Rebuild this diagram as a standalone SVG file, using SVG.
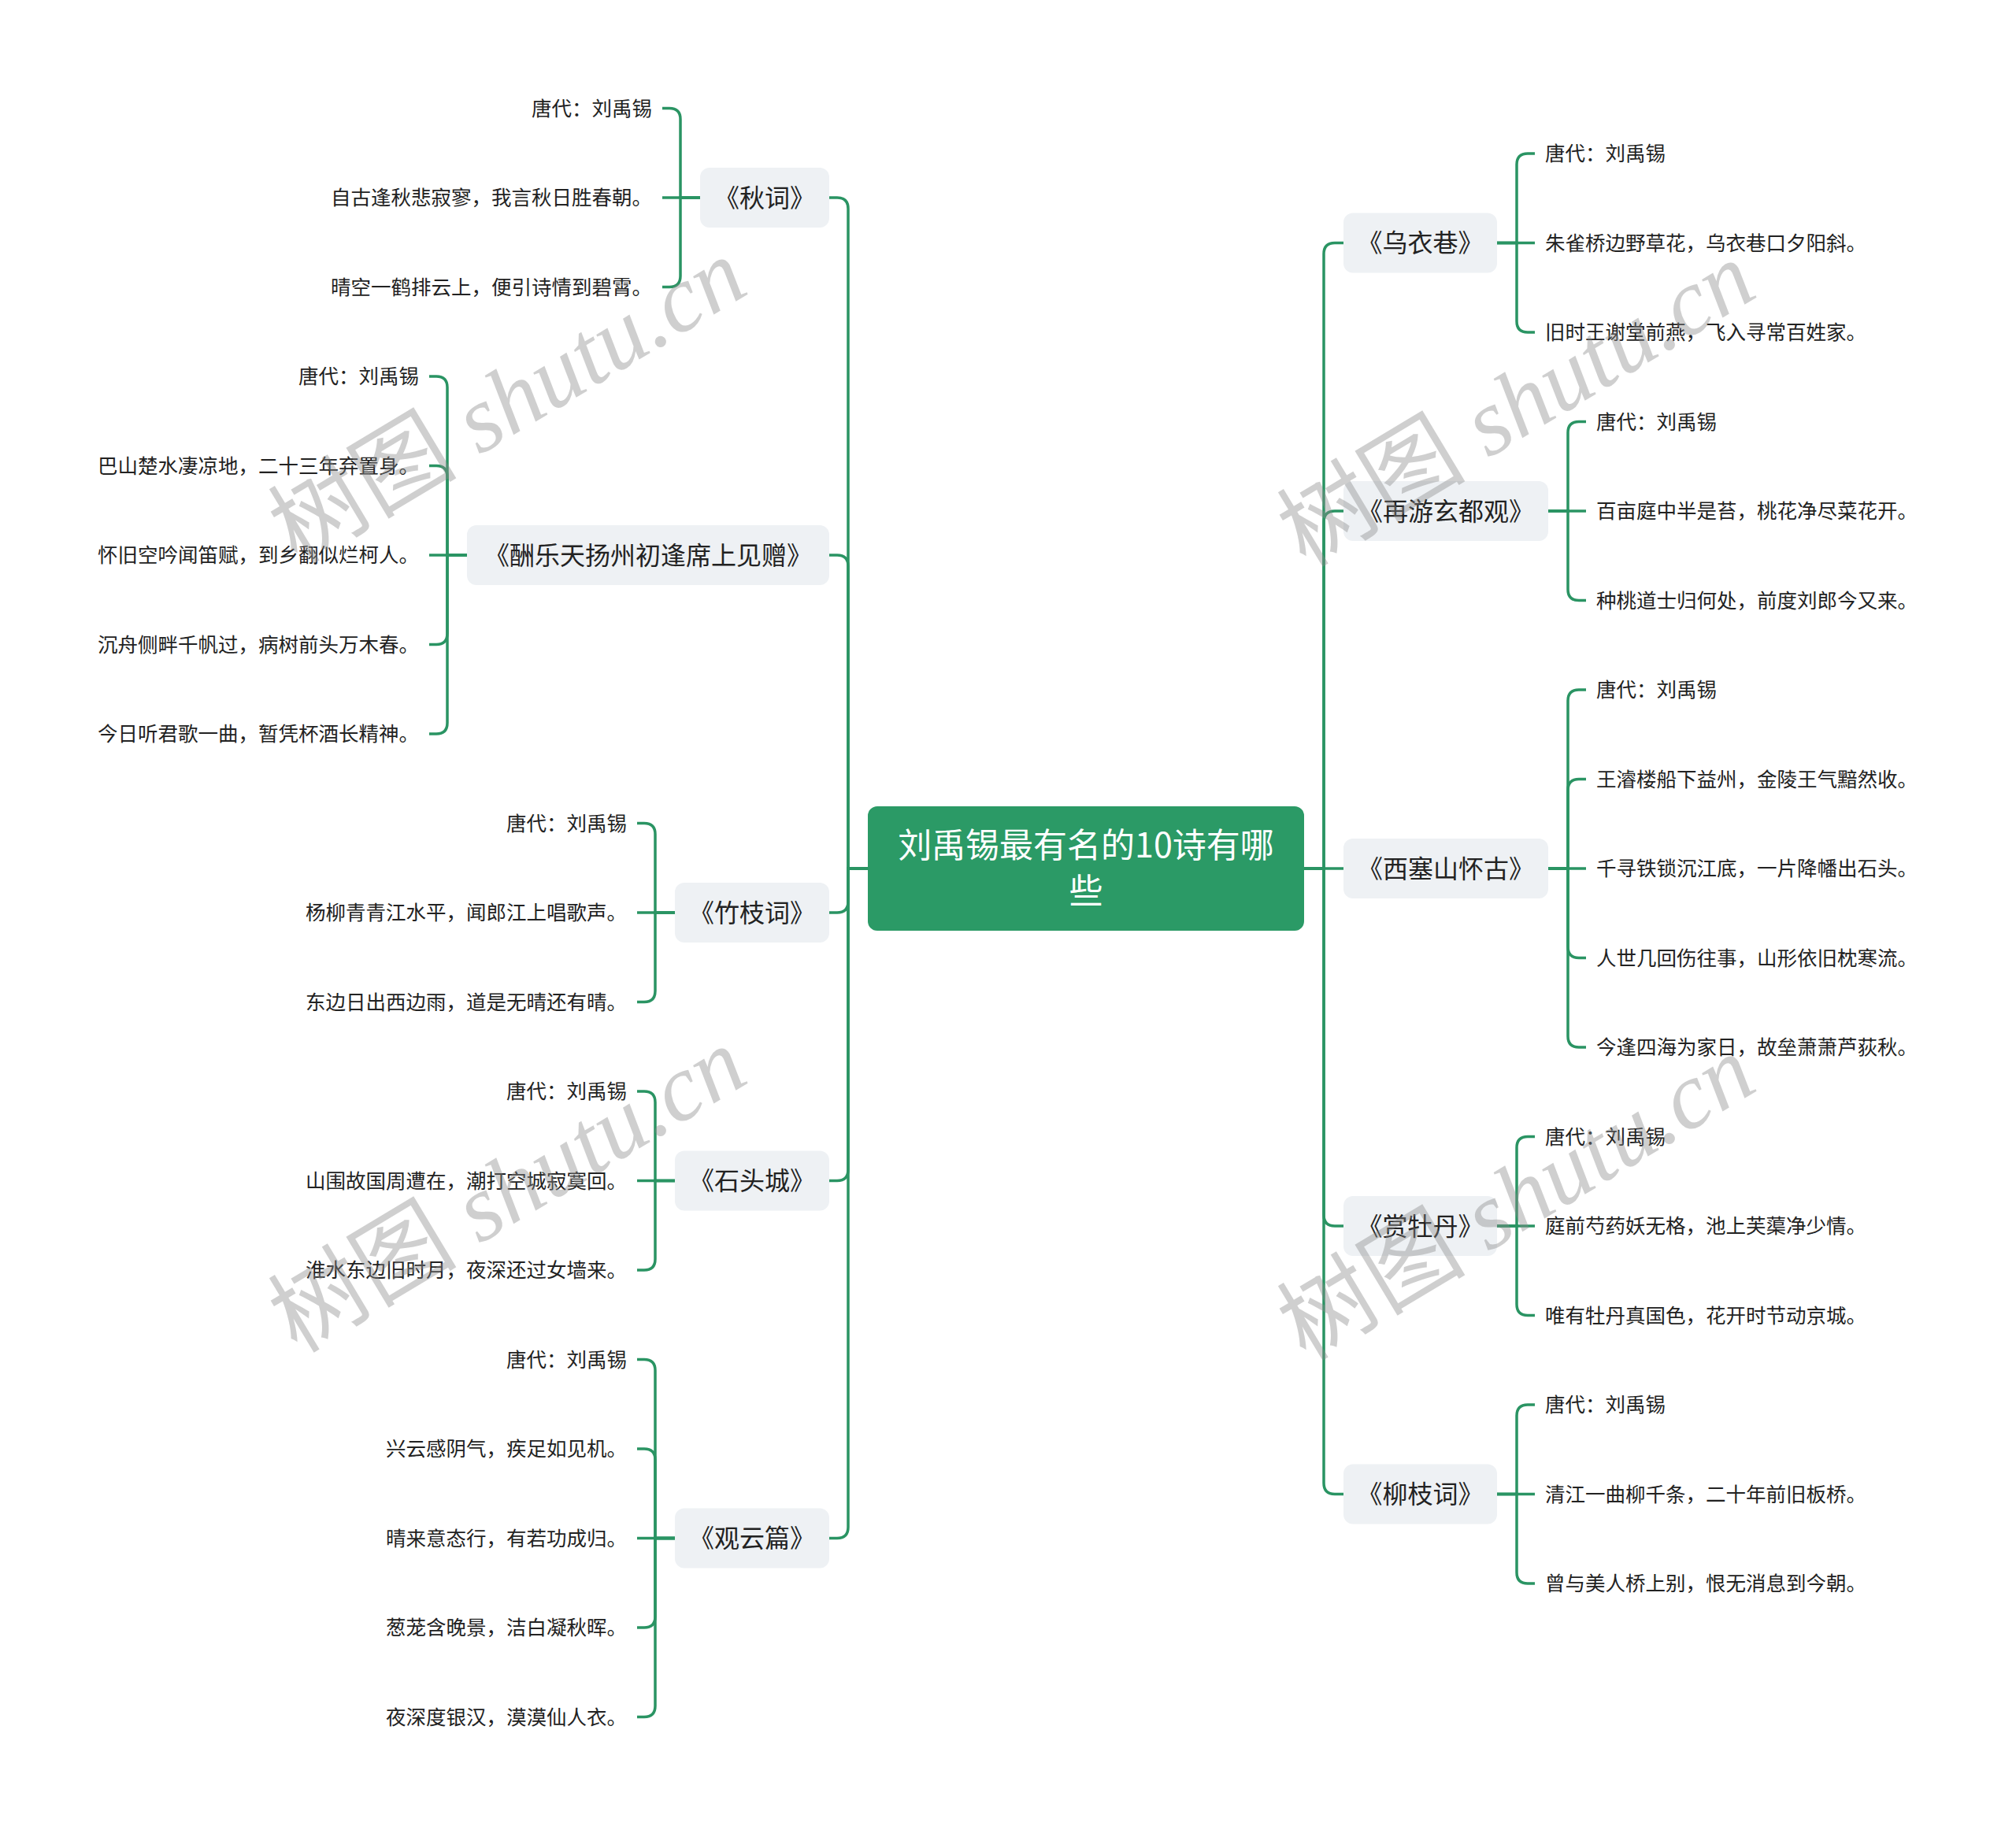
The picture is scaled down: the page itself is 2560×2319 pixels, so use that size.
<svg xmlns="http://www.w3.org/2000/svg" width="2560" height="2319" viewBox="0 0 2560 2319">
<defs>
<style>
.conn{fill:none;stroke:#2a9463;stroke-width:3.5}
.box{fill:#eef1f4}
.root{fill:#2b9a66}
.rt{font-family:"Noto Sans CJK SC","Noto Sans",sans-serif;font-size:43px;fill:#ffffff;text-anchor:middle}
.t1{font-family:"Noto Sans CJK SC","Noto Sans",sans-serif;font-size:32px;fill:#222222;text-anchor:middle}
.lf{font-family:"Noto Sans CJK SC","Noto Sans",sans-serif;font-size:25.5px;fill:#222222}
.le{text-anchor:end}
.wm{font-family:"Liberation Serif","Noto Sans CJK SC",serif;font-size:120px;fill:#8a8a8a;opacity:0.4;text-anchor:middle}
.it{font-style:italic}
</style>
</defs>
<rect width="2560" height="2319" fill="#ffffff"/>

<g id="connectors">
<path class="conn" d="M1102 1103 H1077 V265 Q1077 251 1063 251 H1053"/>
<path class="conn" d="M1102 1103 H1077 V719 Q1077 705 1063 705 H1053"/>
<path class="conn" d="M1102 1103 H1077 V1145 Q1077 1159 1063 1159 H1053"/>
<path class="conn" d="M1102 1103 H1077 V1485.5 Q1077 1499.5 1063 1499.5 H1053"/>
<path class="conn" d="M1102 1103 H1077 V1939.5 Q1077 1953.5 1063 1953.5 H1053"/>
<path class="conn" d="M1656 1103 H1681 V322.5 Q1681 308.5 1695 308.5 H1706"/>
<path class="conn" d="M1656 1103 H1681 V663 Q1681 649 1695 649 H1706"/>
<path class="conn" d="M1656 1103 H1706"/>
<path class="conn" d="M1656 1103 H1681 V1543 Q1681 1557 1695 1557 H1706"/>
<path class="conn" d="M1656 1103 H1681 V1883.5 Q1681 1897.5 1695 1897.5 H1706"/>
<path class="conn" d="M889 251 H864 V151.5 Q864 137.5 850 137.5 H841"/>
<path class="conn" d="M889 251 H841"/>
<path class="conn" d="M889 251 H864 V350.5 Q864 364.5 850 364.5 H841"/>
<path class="conn" d="M593 705 H568 V492 Q568 478 554 478 H545"/>
<path class="conn" d="M593 705 H568 V605.5 Q568 591.5 554 591.5 H545"/>
<path class="conn" d="M593 705 H545"/>
<path class="conn" d="M593 705 H568 V804.5 Q568 818.5 554 818.5 H545"/>
<path class="conn" d="M593 705 H568 V918 Q568 932 554 932 H545"/>
<path class="conn" d="M857 1159 H832 V1059.5 Q832 1045.5 818 1045.5 H809"/>
<path class="conn" d="M857 1159 H809"/>
<path class="conn" d="M857 1159 H832 V1258.5 Q832 1272.5 818 1272.5 H809"/>
<path class="conn" d="M857 1499.5 H832 V1400 Q832 1386 818 1386 H809"/>
<path class="conn" d="M857 1499.5 H809"/>
<path class="conn" d="M857 1499.5 H832 V1599 Q832 1613 818 1613 H809"/>
<path class="conn" d="M857 1953.5 H832 V1740.5 Q832 1726.5 818 1726.5 H809"/>
<path class="conn" d="M857 1953.5 H832 V1854 Q832 1840 818 1840 H809"/>
<path class="conn" d="M857 1953.5 H809"/>
<path class="conn" d="M857 1953.5 H832 V2053 Q832 2067 818 2067 H809"/>
<path class="conn" d="M857 1953.5 H832 V2166.5 Q832 2180.5 818 2180.5 H809"/>
<path class="conn" d="M1901 308.5 H1926 V209 Q1926 195 1940 195 H1949"/>
<path class="conn" d="M1901 308.5 H1949"/>
<path class="conn" d="M1901 308.5 H1926 V408 Q1926 422 1940 422 H1949"/>
<path class="conn" d="M1966 649 H1991 V549.5 Q1991 535.5 2005 535.5 H2014"/>
<path class="conn" d="M1966 649 H2014"/>
<path class="conn" d="M1966 649 H1991 V748.5 Q1991 762.5 2005 762.5 H2014"/>
<path class="conn" d="M1966 1103 H1991 V890 Q1991 876 2005 876 H2014"/>
<path class="conn" d="M1966 1103 H1991 V1003.5 Q1991 989.5 2005 989.5 H2014"/>
<path class="conn" d="M1966 1103 H2014"/>
<path class="conn" d="M1966 1103 H1991 V1202.5 Q1991 1216.5 2005 1216.5 H2014"/>
<path class="conn" d="M1966 1103 H1991 V1316 Q1991 1330 2005 1330 H2014"/>
<path class="conn" d="M1901 1557 H1926 V1457.5 Q1926 1443.5 1940 1443.5 H1949"/>
<path class="conn" d="M1901 1557 H1949"/>
<path class="conn" d="M1901 1557 H1926 V1656.5 Q1926 1670.5 1940 1670.5 H1949"/>
<path class="conn" d="M1901 1897.5 H1926 V1798 Q1926 1784 1940 1784 H1949"/>
<path class="conn" d="M1901 1897.5 H1949"/>
<path class="conn" d="M1901 1897.5 H1926 V1997 Q1926 2011 1940 2011 H1949"/>
</g>

<g id="root">
<rect class="root" x="1102" y="1024" width="554" height="158" rx="12"/>
<text class="rt" x="1379" y="1089">刘禹锡最有名的10诗有哪</text>
<text class="rt" x="1379" y="1147">些</text>
</g>

<g id="n-qiuci">
<rect class="box" x="889" y="213" width="164" height="76" rx="12"/>
<text class="t1" x="971" y="262.5">《秋词》</text>
<text class="lf le" x="828" y="146.5">唐代：刘禹锡</text>
<text class="lf le" x="828" y="260">自古逢秋悲寂寥，我言秋日胜春朝。</text>
<text class="lf le" x="828" y="373.5">晴空一鹤排云上，便引诗情到碧霄。</text>
</g>

<g id="n-choult">
<rect class="box" x="593" y="667" width="460" height="76" rx="12"/>
<text class="t1" x="823" y="716.5">《酬乐天扬州初逢席上见赠》</text>
<text class="lf le" x="532" y="487">唐代：刘禹锡</text>
<text class="lf le" x="532" y="600.5">巴山楚水凄凉地，二十三年弃置身。</text>
<text class="lf le" x="532" y="714">怀旧空吟闻笛赋，到乡翻似烂柯人。</text>
<text class="lf le" x="532" y="827.5">沉舟侧畔千帆过，病树前头万木春。</text>
<text class="lf le" x="532" y="941">今日听君歌一曲，暂凭杯酒长精神。</text>
</g>

<g id="n-zhuzhici">
<rect class="box" x="857" y="1121" width="196" height="76" rx="12"/>
<text class="t1" x="955" y="1170.5">《竹枝词》</text>
<text class="lf le" x="796" y="1054.5">唐代：刘禹锡</text>
<text class="lf le" x="796" y="1168">杨柳青青江水平，闻郎江上唱歌声。</text>
<text class="lf le" x="796" y="1281.5">东边日出西边雨，道是无晴还有晴。</text>
</g>

<g id="n-shitoucheng">
<rect class="box" x="857" y="1461.5" width="196" height="76" rx="12"/>
<text class="t1" x="955" y="1511">《石头城》</text>
<text class="lf le" x="796" y="1395">唐代：刘禹锡</text>
<text class="lf le" x="796" y="1508.5">山围故国周遭在，潮打空城寂寞回。</text>
<text class="lf le" x="796" y="1622">淮水东边旧时月，夜深还过女墙来。</text>
</g>

<g id="n-guanyunpian">
<rect class="box" x="857" y="1915.5" width="196" height="76" rx="12"/>
<text class="t1" x="955" y="1965">《观云篇》</text>
<text class="lf le" x="796" y="1735.5">唐代：刘禹锡</text>
<text class="lf le" x="796" y="1849">兴云感阴气，疾足如见机。</text>
<text class="lf le" x="796" y="1962.5">晴来意态行，有若功成归。</text>
<text class="lf le" x="796" y="2076">葱茏含晚景，洁白凝秋晖。</text>
<text class="lf le" x="796" y="2189.5">夜深度银汉，漠漠仙人衣。</text>
</g>

<g id="n-wuyixiang">
<rect class="box" x="1706" y="270.5" width="195" height="76" rx="12"/>
<text class="t1" x="1803.5" y="320">《乌衣巷》</text>
<text class="lf" x="1962" y="204">唐代：刘禹锡</text>
<text class="lf" x="1962" y="317.5">朱雀桥边野草花，乌衣巷口夕阳斜。</text>
<text class="lf" x="1962" y="431">旧时王谢堂前燕，飞入寻常百姓家。</text>
</g>

<g id="n-zaiyou">
<rect class="box" x="1706" y="611" width="260" height="76" rx="12"/>
<text class="t1" x="1836" y="660.5">《再游玄都观》</text>
<text class="lf" x="2027" y="544.5">唐代：刘禹锡</text>
<text class="lf" x="2027" y="658">百亩庭中半是苔，桃花净尽菜花开。</text>
<text class="lf" x="2027" y="771.5">种桃道士归何处，前度刘郎今又来。</text>
</g>

<g id="n-xisaishan">
<rect class="box" x="1706" y="1065" width="260" height="76" rx="12"/>
<text class="t1" x="1836" y="1114.5">《西塞山怀古》</text>
<text class="lf" x="2027" y="885">唐代：刘禹锡</text>
<text class="lf" x="2027" y="998.5">王濬楼船下益州，金陵王气黯然收。</text>
<text class="lf" x="2027" y="1112">千寻铁锁沉江底，一片降幡出石头。</text>
<text class="lf" x="2027" y="1225.5">人世几回伤往事，山形依旧枕寒流。</text>
<text class="lf" x="2027" y="1339">今逢四海为家日，故垒萧萧芦荻秋。</text>
</g>

<g id="n-shangmudan">
<rect class="box" x="1706" y="1519" width="195" height="76" rx="12"/>
<text class="t1" x="1803.5" y="1568.5">《赏牡丹》</text>
<text class="lf" x="1962" y="1452.5">唐代：刘禹锡</text>
<text class="lf" x="1962" y="1566">庭前芍药妖无格，池上芙蕖净少情。</text>
<text class="lf" x="1962" y="1679.5">唯有牡丹真国色，花开时节动京城。</text>
</g>

<g id="n-liuzhici">
<rect class="box" x="1706" y="1859.5" width="195" height="76" rx="12"/>
<text class="t1" x="1803.5" y="1909">《柳枝词》</text>
<text class="lf" x="1962" y="1793">唐代：刘禹锡</text>
<text class="lf" x="1962" y="1906.5">清江一曲柳千条，二十年前旧板桥。</text>
<text class="lf" x="1962" y="2020">曾与美人桥上别，恨无消息到今朝。</text>
</g>

<g id="watermark">
<text class="wm" transform="translate(645 510) rotate(-31)" x="0" y="40">树图 <tspan class="it">shutu.cn</tspan></text>
<text class="wm" transform="translate(1926 514) rotate(-31)" x="0" y="40">树图 <tspan class="it">shutu.cn</tspan></text>
<text class="wm" transform="translate(645 1512) rotate(-31)" x="0" y="40">树图 <tspan class="it">shutu.cn</tspan></text>
<text class="wm" transform="translate(1926 1522) rotate(-31)" x="0" y="40">树图 <tspan class="it">shutu.cn</tspan></text>
</g>
</svg>
